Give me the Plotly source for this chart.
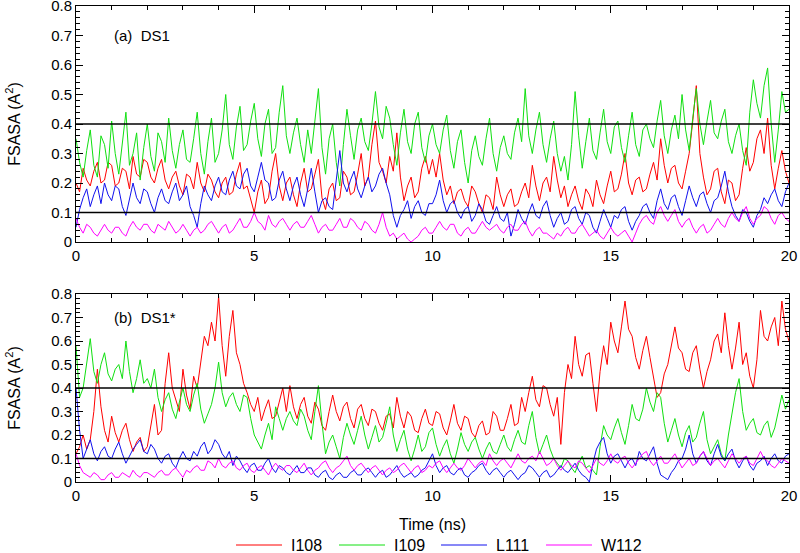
import plotly.graph_objects as go

# ---------------- data ----------------
STEP = 0.1  # ns between samples
SERIES = ["I108", "I109", "L111", "W112"]
COLORS = ["#ff0000", "#10e010", "#1010ee", "#ff00ff"]
THRESHOLDS = [0.1, 0.4]

# panel (a) DS1
I108_a = [0.20,0.17,0.25,0.21,0.19,0.24,0.27,0.20,0.21,0.27,0.26,0.19,0.20,0.25,0.24,0.18,0.29,0.23,0.22,0.28,
          0.27,0.22,0.20,0.25,0.28,0.21,0.18,0.22,0.24,0.19,0.16,0.23,0.22,0.18,0.27,0.20,0.17,0.23,0.21,0.17,
          0.15,0.20,0.22,0.16,0.17,0.23,0.27,0.18,0.19,0.14,0.10,0.17,0.21,0.13,0.15,0.24,0.30,0.19,0.14,0.20,
          0.22,0.16,0.12,0.20,0.25,0.17,0.18,0.23,0.28,0.15,0.11,0.18,0.20,0.14,0.15,0.24,0.22,0.16,0.17,0.23,
          0.30,0.19,0.22,0.33,0.41,0.27,0.24,0.20,0.29,0.24,0.37,0.22,0.14,0.19,0.22,0.15,0.17,0.25,0.29,0.23,
          0.28,0.22,0.30,0.21,0.16,0.19,0.13,0.17,0.18,0.14,0.12,0.19,0.17,0.13,0.10,0.16,0.15,0.11,0.22,0.16,
          0.12,0.16,0.18,0.12,0.13,0.17,0.20,0.15,0.26,0.19,0.14,0.20,0.22,0.17,0.29,0.21,0.15,0.19,0.12,0.16,
          0.19,0.14,0.11,0.18,0.16,0.12,0.21,0.16,0.13,0.19,0.24,0.17,0.18,0.23,0.30,0.20,0.16,0.21,0.22,0.17,
          0.18,0.23,0.27,0.21,0.35,0.26,0.20,0.25,0.26,0.20,0.18,0.24,0.30,0.41,0.53,0.30,0.22,0.16,0.18,0.24,
          0.25,0.17,0.13,0.21,0.20,0.14,0.16,0.25,0.32,0.24,0.27,0.35,0.38,0.30,0.42,0.26,0.18,0.25,0.31,0.24,
          0.20]
I109_a = [0.35,0.27,0.22,0.31,0.38,0.26,0.22,0.36,0.33,0.25,0.41,0.30,0.23,0.34,0.44,0.26,0.30,0.37,0.21,0.32,
          0.40,0.29,0.24,0.37,0.34,0.27,0.42,0.31,0.25,0.33,0.38,0.28,0.27,0.35,0.44,0.30,0.23,0.34,0.42,0.27,
          0.30,0.38,0.50,0.33,0.28,0.39,0.46,0.31,0.33,0.41,0.47,0.35,0.29,0.40,0.45,0.30,0.32,0.44,0.53,0.36,
          0.30,0.37,0.42,0.33,0.27,0.38,0.30,0.41,0.52,0.32,0.23,0.35,0.40,0.27,0.19,0.33,0.45,0.36,0.28,0.38,
          0.42,0.34,0.31,0.40,0.51,0.39,0.35,0.46,0.42,0.33,0.26,0.37,0.45,0.34,0.30,0.40,0.44,0.32,0.27,0.36,
          0.40,0.33,0.30,0.38,0.43,0.31,0.25,0.34,0.38,0.27,0.20,0.31,0.36,0.29,0.26,0.35,0.42,0.30,0.24,0.32,
          0.36,0.30,0.28,0.37,0.42,0.34,0.52,0.36,0.30,0.38,0.44,0.33,0.27,0.35,0.41,0.30,0.24,0.29,0.21,0.33,
          0.51,0.36,0.25,0.34,0.42,0.31,0.28,0.37,0.45,0.34,0.30,0.39,0.41,0.32,0.27,0.36,0.44,0.33,0.29,0.38,
          0.40,0.35,0.32,0.41,0.48,0.36,0.30,0.38,0.43,0.35,0.50,0.38,0.31,0.42,0.52,0.40,0.33,0.41,0.48,0.37,
          0.35,0.41,0.45,0.34,0.30,0.36,0.40,0.31,0.26,0.44,0.55,0.47,0.42,0.53,0.59,0.40,0.27,0.38,0.51,0.44,
          0.45]
L111_a = [0.05,0.11,0.15,0.18,0.12,0.16,0.19,0.13,0.20,0.16,0.14,0.19,0.18,0.12,0.09,0.15,0.20,0.15,0.13,0.18,
          0.17,0.13,0.10,0.15,0.18,0.14,0.13,0.17,0.20,0.14,0.16,0.19,0.12,0.09,0.05,0.13,0.19,0.16,0.14,0.19,
          0.22,0.17,0.16,0.21,0.24,0.19,0.18,0.23,0.25,0.19,0.17,0.22,0.27,0.21,0.20,0.14,0.15,0.21,0.24,0.18,
          0.14,0.19,0.22,0.16,0.12,0.18,0.25,0.17,0.10,0.14,0.15,0.12,0.11,0.21,0.31,0.20,0.17,0.21,0.24,0.18,
          0.15,0.19,0.22,0.17,0.19,0.23,0.25,0.20,0.16,0.09,0.05,0.09,0.11,0.14,0.08,0.12,0.14,0.10,0.09,0.13,
          0.13,0.16,0.21,0.14,0.10,0.13,0.14,0.10,0.08,0.11,0.12,0.07,0.09,0.13,0.11,0.07,0.06,0.09,0.12,0.08,
          0.07,0.10,0.02,0.06,0.11,0.08,0.06,0.10,0.13,0.09,0.08,0.12,0.14,0.09,0.05,0.08,0.10,0.06,0.07,0.11,
          0.12,0.08,0.06,0.10,0.09,0.05,0.03,0.07,0.11,0.08,0.05,0.09,0.08,0.11,0.12,0.07,0.04,0.07,0.09,0.12,
          0.13,0.10,0.08,0.14,0.18,0.13,0.11,0.15,0.16,0.12,0.09,0.14,0.19,0.15,0.12,0.16,0.17,0.13,0.10,0.14,
          0.15,0.19,0.24,0.17,0.12,0.09,0.07,0.11,0.10,0.07,0.05,0.09,0.11,0.15,0.13,0.16,0.18,0.14,0.12,0.17,
          0.20]
W112_a = [0.08,0.05,0.03,0.06,0.05,0.03,0.02,0.04,0.06,0.04,0.03,0.05,0.05,0.03,0.02,0.05,0.07,0.05,0.04,0.06,
          0.06,0.04,0.03,0.06,0.05,0.04,0.07,0.05,0.03,0.04,0.06,0.04,0.02,0.04,0.05,0.03,0.04,0.06,0.07,0.05,
          0.03,0.05,0.06,0.03,0.04,0.06,0.08,0.05,0.05,0.07,0.10,0.07,0.06,0.04,0.09,0.06,0.05,0.07,0.08,0.06,
          0.04,0.06,0.07,0.05,0.05,0.07,0.09,0.06,0.03,0.05,0.06,0.04,0.04,0.06,0.08,0.05,0.05,0.08,0.07,0.05,
          0.04,0.07,0.06,0.04,0.03,0.06,0.10,0.05,0.02,0.03,0.01,0.02,0.03,0.01,0.00,0.01,0.02,0.04,0.05,0.03,
          0.03,0.05,0.07,0.05,0.04,0.06,0.06,0.03,0.02,0.04,0.05,0.03,0.03,0.05,0.07,0.05,0.04,0.05,0.06,0.04,
          0.03,0.05,0.06,0.04,0.04,0.06,0.07,0.04,0.02,0.04,0.05,0.03,0.03,0.02,0.01,0.03,0.02,0.04,0.05,0.03,
          0.03,0.05,0.06,0.04,0.02,0.03,0.04,0.02,0.01,0.03,0.05,0.03,0.02,0.03,0.04,0.02,0.00,0.03,0.06,0.08,
          0.09,0.07,0.06,0.10,0.12,0.09,0.07,0.09,0.11,0.07,0.05,0.07,0.08,0.05,0.03,0.05,0.06,0.03,0.04,0.06,
          0.08,0.06,0.05,0.08,0.10,0.08,0.07,0.10,0.12,0.08,0.06,0.08,0.09,0.12,0.11,0.08,0.06,0.09,0.10,0.08,
          0.07]

# panel (b) DS1*
I108_b = [0.12,0.15,0.20,0.14,0.18,0.30,0.48,0.32,0.22,0.17,0.28,0.21,0.17,0.22,0.25,0.18,0.13,0.17,0.19,0.13,
          0.15,0.24,0.33,0.20,0.22,0.42,0.55,0.40,0.35,0.30,0.48,0.37,0.31,0.45,0.40,0.52,0.62,0.58,0.68,0.60,
          0.79,0.58,0.45,0.62,0.73,0.55,0.50,0.42,0.38,0.33,0.30,0.36,0.26,0.31,0.35,0.27,0.28,0.34,0.40,0.30,
          0.41,0.32,0.27,0.33,0.36,0.28,0.25,0.34,0.31,0.24,0.22,0.30,0.37,0.30,0.26,0.32,0.34,0.27,0.23,0.31,
          0.33,0.27,0.24,0.31,0.30,0.25,0.22,0.28,0.29,0.23,0.36,0.28,0.23,0.30,0.28,0.22,0.21,0.27,0.31,0.25,
          0.24,0.30,0.29,0.23,0.20,0.26,0.33,0.25,0.22,0.28,0.27,0.21,0.19,0.24,0.26,0.20,0.21,0.30,0.28,0.22,
          0.22,0.27,0.33,0.24,0.25,0.36,0.30,0.38,0.45,0.35,0.32,0.41,0.40,0.33,0.28,0.36,0.16,0.38,0.50,0.44,
          0.62,0.50,0.45,0.54,0.55,0.42,0.30,0.47,0.58,0.50,0.68,0.60,0.55,0.66,0.77,0.65,0.62,0.53,0.48,0.56,
          0.62,0.53,0.45,0.36,0.38,0.46,0.50,0.58,0.66,0.57,0.55,0.48,0.47,0.55,0.58,0.48,0.40,0.47,0.52,0.60,
          0.63,0.55,0.72,0.58,0.48,0.57,0.68,0.50,0.55,0.45,0.40,0.52,0.73,0.62,0.60,0.66,0.70,0.58,0.77,0.65,
          0.60]
I109_b = [0.58,0.36,0.40,0.50,0.61,0.47,0.42,0.50,0.55,0.46,0.43,0.48,0.50,0.44,0.60,0.47,0.38,0.44,0.52,0.42,
          0.44,0.40,0.48,0.36,0.30,0.35,0.38,0.31,0.27,0.34,0.40,0.33,0.30,0.37,0.42,0.31,0.25,0.29,0.33,0.40,
          0.51,0.38,0.32,0.36,0.38,0.33,0.30,0.37,0.36,0.27,0.20,0.17,0.14,0.20,0.25,0.18,0.32,0.27,0.22,0.27,
          0.30,0.26,0.24,0.31,0.28,0.22,0.18,0.30,0.41,0.25,0.12,0.17,0.20,0.15,0.10,0.19,0.25,0.20,0.16,0.22,
          0.28,0.20,0.14,0.19,0.24,0.17,0.19,0.25,0.32,0.20,0.13,0.18,0.22,0.14,0.09,0.14,0.20,0.13,0.15,0.21,
          0.23,0.16,0.11,0.15,0.18,0.12,0.08,0.14,0.21,0.16,0.13,0.17,0.19,0.14,0.10,0.14,0.17,0.13,0.12,0.16,
          0.20,0.15,0.13,0.18,0.22,0.17,0.16,0.24,0.30,0.19,0.12,0.16,0.20,0.14,0.10,0.08,0.06,0.10,0.09,0.06,
          0.04,0.08,0.11,0.06,0.07,0.05,0.03,0.15,0.24,0.20,0.18,0.23,0.27,0.21,0.16,0.24,0.33,0.27,0.26,0.31,
          0.40,0.34,0.30,0.38,0.36,0.25,0.17,0.22,0.27,0.20,0.15,0.21,0.24,0.17,0.19,0.25,0.30,0.18,0.12,0.15,
          0.18,0.12,0.09,0.20,0.30,0.38,0.44,0.30,0.22,0.25,0.27,0.21,0.20,0.24,0.26,0.19,0.23,0.30,0.37,0.31,
          0.35]
L111_b = [0.40,0.22,0.10,0.14,0.18,0.12,0.09,0.13,0.15,0.11,0.10,0.14,0.17,0.12,0.08,0.11,0.14,0.16,0.18,0.13,
          0.12,0.16,0.14,0.10,0.08,0.11,0.12,0.08,0.06,0.10,0.13,0.10,0.09,0.13,0.11,0.15,0.17,0.12,0.14,0.18,
          0.16,0.12,0.10,0.13,0.07,0.11,0.09,0.06,0.04,0.07,0.08,0.05,0.05,0.08,0.10,0.06,0.04,0.07,0.06,0.04,
          0.03,0.05,0.07,0.04,0.04,0.06,0.06,0.03,0.02,0.04,0.05,0.02,0.01,0.03,0.04,0.02,0.02,0.04,0.05,0.03,
          0.03,0.05,0.06,0.04,0.02,0.04,0.05,0.02,0.03,0.05,0.07,0.04,0.02,0.03,0.04,0.02,0.03,0.05,0.06,0.09,
          0.12,0.07,0.04,0.06,0.07,0.04,0.03,0.05,0.06,0.03,0.02,0.04,0.05,0.07,0.08,0.05,0.03,0.05,0.06,0.04,
          0.02,0.04,0.05,0.03,0.01,0.03,0.04,0.07,0.06,0.04,0.02,0.04,0.05,0.02,0.03,0.05,0.07,0.05,0.04,0.06,
          0.08,0.05,0.03,0.02,0.00,0.08,0.14,0.17,0.19,0.12,0.08,0.11,0.12,0.09,0.06,0.09,0.10,0.07,0.13,0.10,
          0.09,0.12,0.15,0.08,0.03,0.02,0.01,0.04,0.06,0.09,0.10,0.14,0.20,0.12,0.08,0.11,0.13,0.09,0.07,0.12,
          0.16,0.11,0.09,0.12,0.14,0.09,0.06,0.09,0.11,0.07,0.05,0.08,0.09,0.11,0.07,0.10,0.12,0.09,0.08,0.11,
          0.12]
W112_b = [0.12,0.07,0.04,0.03,0.02,0.04,0.03,0.01,0.01,0.03,0.04,0.02,0.02,0.04,0.03,0.02,0.05,0.03,0.02,0.04,
          0.04,0.03,0.02,0.04,0.05,0.03,0.03,0.05,0.06,0.04,0.02,0.05,0.04,0.06,0.07,0.05,0.05,0.09,0.08,0.06,
          0.10,0.07,0.06,0.08,0.09,0.06,0.05,0.07,0.08,0.05,0.04,0.06,0.07,0.05,0.03,0.06,0.08,0.06,0.05,0.07,
          0.07,0.05,0.04,0.06,0.08,0.05,0.03,0.05,0.06,0.08,0.09,0.06,0.04,0.06,0.07,0.09,0.11,0.07,0.05,0.07,
          0.08,0.06,0.04,0.06,0.07,0.05,0.03,0.05,0.06,0.04,0.05,0.07,0.08,0.06,0.04,0.06,0.07,0.04,0.05,0.07,
          0.06,0.08,0.09,0.06,0.04,0.06,0.08,0.06,0.05,0.07,0.10,0.08,0.06,0.08,0.09,0.07,0.12,0.09,0.07,0.09,
          0.10,0.08,0.06,0.09,0.12,0.09,0.08,0.10,0.11,0.09,0.13,0.10,0.07,0.08,0.10,0.07,0.05,0.07,0.09,0.07,
          0.06,0.09,0.08,0.06,0.04,0.07,0.10,0.08,0.07,0.09,0.12,0.09,0.08,0.10,0.11,0.08,0.06,0.08,0.10,0.12,
          0.13,0.09,0.07,0.09,0.11,0.08,0.08,0.10,0.12,0.09,0.06,0.08,0.10,0.07,0.08,0.11,0.13,0.10,0.07,0.09,
          0.10,0.08,0.06,0.09,0.12,0.10,0.08,0.10,0.11,0.08,0.07,0.10,0.13,0.10,0.09,0.07,0.06,0.08,0.10,0.09,
          0.08]

PANEL_A = [I108_a, I109_a, L111_a, W112_a]
PANEL_B = [I108_b, I109_b, L111_b, W112_b]
PANEL_LABELS = ["(a)\u00a0\u00a0DS1", "(b)\u00a0\u00a0DS1*"]

# ---------------- figure ----------------
W, H = 800, 553
L, R, T, B = 76, 11, 6, 71
PW, PH = W - L - R, H - T - B

def px_x(px):
    return (px - L) / PW

def px_y(py):
    return (H - B - py) / PH

FONT = "Liberation Sans, Arial, sans-serif"
fig = go.Figure()

for vals_list, xa, ya in [(PANEL_A, "x", "y"), (PANEL_B, "x2", "y2")]:
    for name, col, vals in zip(SERIES, COLORS, vals_list):
        t = [round(i * STEP, 3) for i in range(len(vals))]
        fig.add_trace(go.Scatter(x=t, y=vals, mode="lines", name=name,
                                 line=dict(color=col, width=1),
                                 xaxis=xa, yaxis=ya, showlegend=False))

shapes = []
for yref, xref in [("y", "x"), ("y2", "x2")]:
    for th in THRESHOLDS:
        shapes.append(dict(type="line", xref=xref, yref=yref, x0=0, x1=20,
                           y0=th, y1=th, line=dict(color="black", width=1.7),
                           layer="above"))

annotations = []
for lab, xr, yr in zip(PANEL_LABELS, ["x", "x2"], ["y", "y2"]):
    annotations.append(dict(text=lab, x=1.0, y=0.7, xref=xr, yref=yr,
                            xanchor="left", yanchor="middle", showarrow=False,
                            font=dict(size=15, color="black", family=FONT)))

# manual legend below the lower panel
leg_y = px_y(545)
line_starts = [236, 339, 441, 546]
for name, col, x0 in zip(SERIES, COLORS, line_starts):
    shapes.append(dict(type="line", xref="paper", yref="paper",
                       x0=px_x(x0), x1=px_x(x0 + 46), y0=leg_y, y1=leg_y,
                       line=dict(color=col, width=1)))
    annotations.append(dict(text=name, x=px_x(x0 + 53), y=leg_y,
                            xref="paper", yref="paper", xanchor="left",
                            yanchor="middle", showarrow=False,
                            font=dict(size=16, color="black", family=FONT)))

common_x = dict(range=[0, 20], dtick=5, tick0=0, ticks="inside", ticklen=7,
                tickcolor="black", minor=dict(dtick=1, ticklen=4, ticks="inside",
                                              tickcolor="black"),
                showline=True, linecolor="black", linewidth=1, mirror="ticks",
                showgrid=False, zeroline=False, ticklabeloverflow="allow",
                tickfont=dict(size=15, color="black", family=FONT))
common_y = dict(range=[0, 0.8], dtick=0.1, tick0=0, ticks="inside", ticklen=7,
                tickcolor="black", minor=dict(dtick=0.02, ticklen=4, ticks="inside",
                                              tickcolor="black"),
                showline=True, linecolor="black", linewidth=1, mirror="ticks",
                showgrid=False, zeroline=False, ticklabeloverflow="allow",
                tickfont=dict(size=15, color="black", family=FONT),
                title=dict(text="FSASA (A<sup>2</sup>)", standoff=26,
                           font=dict(size=16, color="black", family=FONT)))

top_dom = [px_y(242), 1.0]
bot_dom = [0.0, px_y(294)]

fig.update_layout(
    width=W, height=H,
    margin=dict(l=L, r=R, t=T, b=B, autoexpand=False),
    paper_bgcolor="white", plot_bgcolor="white",
    showlegend=False,
    font=dict(family=FONT, size=15, color="black"),
    xaxis=dict(**common_x, anchor="y", domain=[0, 1]),
    xaxis2=dict(**common_x, anchor="y2", domain=[0, 1],
                title=dict(text="Time (ns)", standoff=15,
                           font=dict(size=16, color="black", family=FONT))),
    yaxis=dict(**common_y, anchor="x", domain=top_dom),
    yaxis2=dict(**common_y, anchor="x2", domain=bot_dom),
    shapes=shapes, annotations=annotations,
)

fig.write_html("out.html",
               config={"displayModeBar": False},
               post_script="document.body.style.margin='0px';document.body.style.padding='0px';")
